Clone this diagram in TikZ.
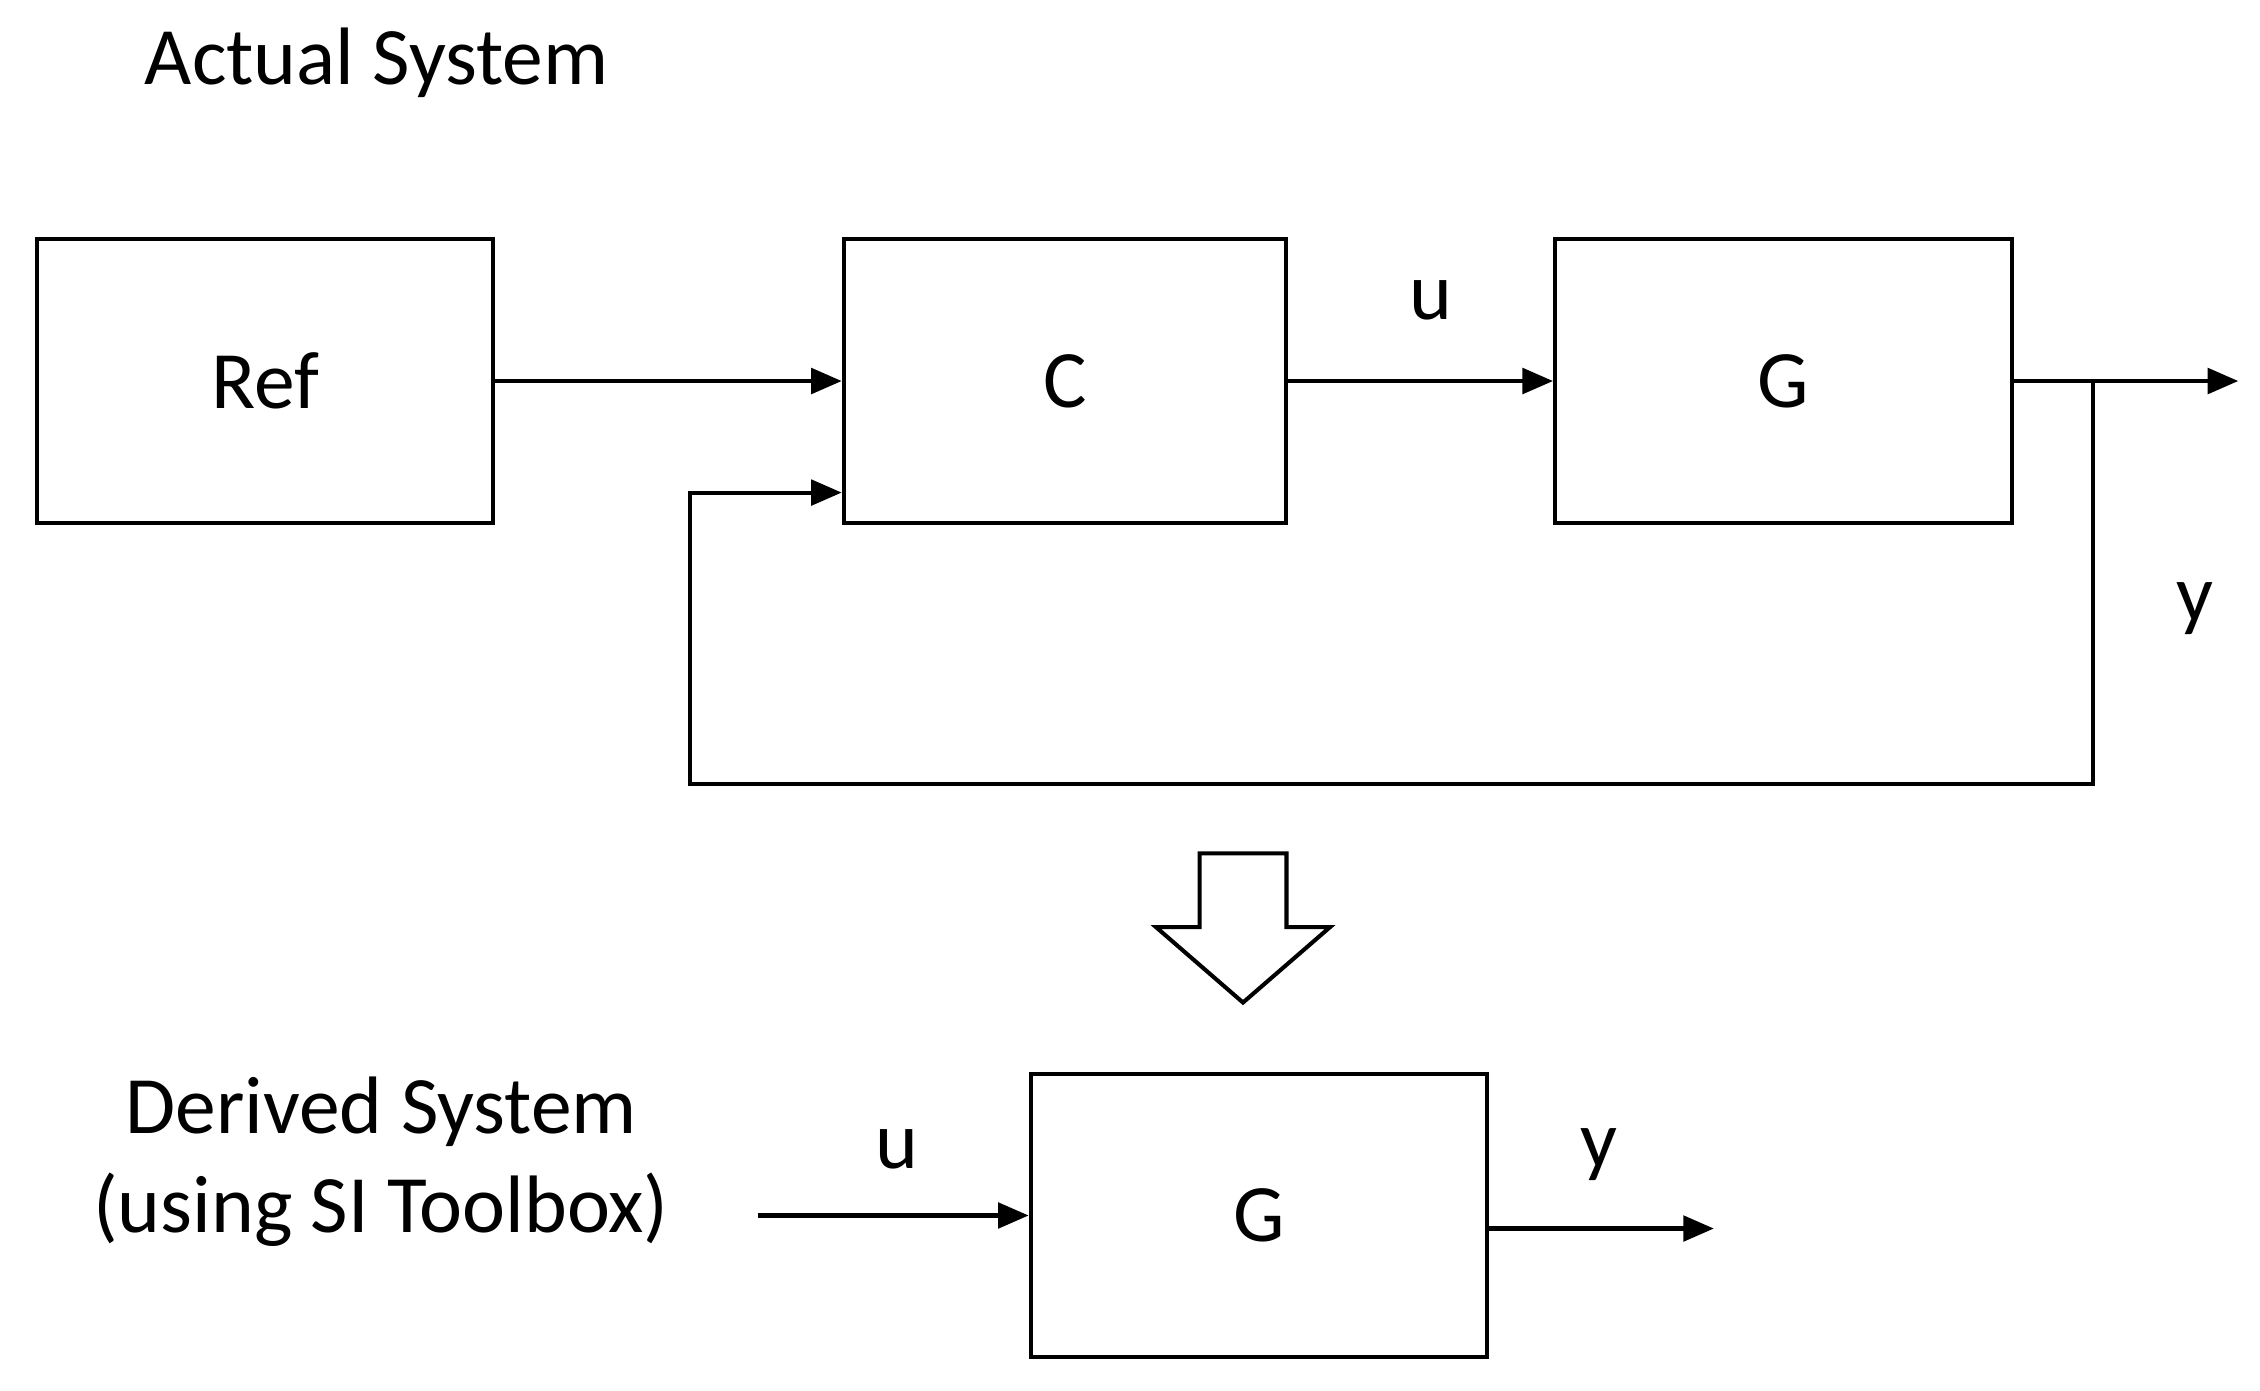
\documentclass[tikz,border=0pt]{standalone}
\usepackage{fontspec}
\setmainfont{Carlito}
\usetikzlibrary{arrows.meta}
\begin{document}
\begin{tikzpicture}[x=0.01cm,y=-0.01cm,
  ln/.style={line width=0.8pt},
  arr/.style={ln,-{Triangle[length=6pt,width=5pt]}},
  lab/.style={font=\fontsize{16}{19.5}\selectfont}]
\useasboundingbox (0,0) rectangle (1560,960);
\node[draw,ln,minimum width=3.15cm,minimum height=1.96cm,lab] (ref) at (183,263) {Ref};
\node[draw,ln,minimum width=3.05cm,minimum height=1.96cm,lab] (c) at (735,263) {C};
\node[draw,ln,minimum width=3.15cm,minimum height=1.96cm,lab] (g) at (1231,263) {G};
\node[draw,ln,minimum width=3.15cm,minimum height=1.95cm,lab] (g2) at (869,839) {G};
\node[lab] (t1) at (260,43) {Actual System};
\node[lab,align=center] (t2) at (263,802) {Derived System\\(using SI Toolbox)};
\node[lab] (u1) at (988,207) {u};
\node[lab] (y1) at (1515,420) {y};
\node[lab] (u2) at (619,793) {u};
\node[lab] (y2) at (1104,797) {y};
\coordinate (out) at (1545,263);
\coordinate (br) at (1445,263);
\coordinate (fb) at (581,340);
\coordinate (in2) at (523,839);
\coordinate (o2) at (1183,848);
\draw[arr] (ref.east) -- (c.west);
\draw[arr] (c.east) -- (g.west);
\draw[arr] (g.east) -- (out);
\draw[arr] (br) -- (1445,541) -- (476,541) -- (476,340) -- (fb);
\draw[arr] (in2) -- (g2.west);
\draw[arr] (g2.east |- o2) -- (o2);
\draw[ln,line join=miter] (828,589) -- (888,589) -- (888,640) -- (918,640) -- (858,692) -- (798,640) -- (828,640) -- cycle;
\end{tikzpicture}
\end{document}
